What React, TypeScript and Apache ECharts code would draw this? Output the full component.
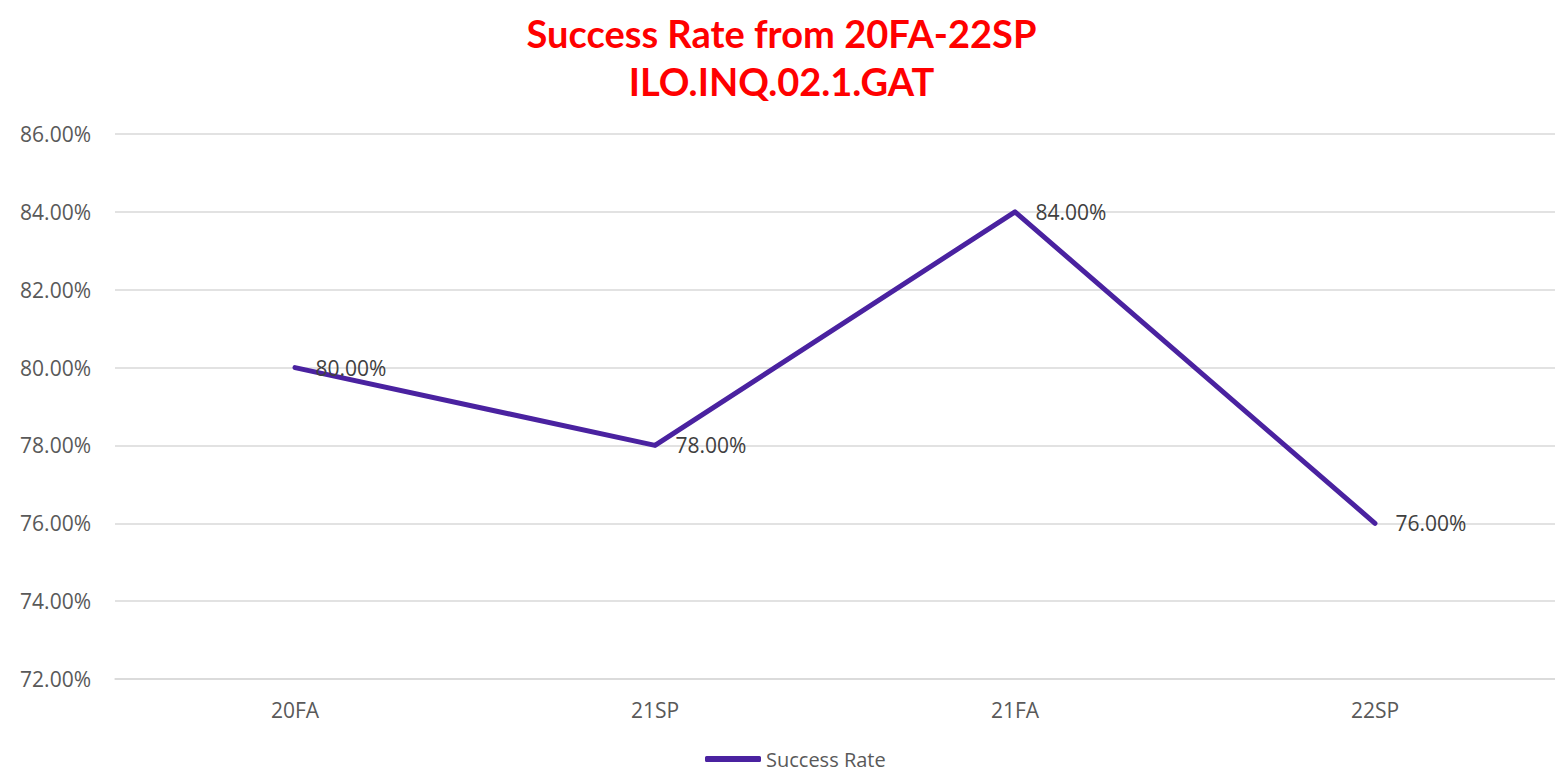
import React, { useEffect, useRef } from "react";
import * as echarts from "echarts";

const categories = ["20FA", "21SP", "21FA", "22SP"];
const successRate = [80, 78, 84, 76];
const seriesName = "Success Rate";
const titleLines = ["Success Rate from 20FA-22SP", "ILO.INQ.02.1.GAT"];

export default function App() {
  const ref = useRef<HTMLDivElement>(null);
  useEffect(() => {
    if (!ref.current) return;
    const chart = echarts.init(ref.current, undefined, { renderer: "svg" });
    const titleStyle = {
      color: "#ff0000",
      fontFamily: "Lato",
      fontWeight: "bold",
      fontSize: 38,
      lineHeight: 42,
    };
    chart.setOption({
      animation: false,
      title: {
        text: titleLines[0],
        subtext: titleLines[1],
        left: "center",
        top: 4,
        padding: 0,
        itemGap: 6,
        textStyle: titleStyle,
        subtextStyle: titleStyle,
      },
      legend: {
        top: 736,
        left: 692,
        itemWidth: 56,
        itemHeight: 6,
        itemGap: 10,
        data: [{ name: seriesName, icon: "roundRect" }],
        textStyle: {
          color: "#595959",
          fontFamily: "Open Sans",
          fontSize: 20,
          lineHeight: 18,
          padding: [0, 0, 0, 0],
        },
      },
      grid: { left: 107, right: 0, top: 126, bottom: 93, containLabel: false },
      xAxis: {
        type: "category",
        data: categories,
        axisLine: { show: true, lineStyle: { color: "#d9d9d9", width: 1.5 } },
        axisTick: { show: false },
        axisLabel: { color: "#595959", fontFamily: "Open Sans", fontSize: 21, margin: 20 },
      },
      yAxis: {
        type: "value",
        min: 72,
        max: 86,
        interval: 2,
        axisLine: { show: false },
        axisTick: { show: false },
        splitLine: { lineStyle: { color: "#d9d9d9", width: 1.5 } },
        axisLabel: {
          color: "#595959",
          fontFamily: "Open Sans",
          fontSize: 21,
          margin: 24,
          formatter: (v: number) => v.toFixed(2) + "%",
        },
      },
      series: [
        {
          name: seriesName,
          type: "line",
          data: successRate,
          symbol: "circle",
          symbolSize: 1,
          showSymbol: true,
          lineStyle: { color: "#4a22a0", width: 5, cap: "round", join: "round" },
          itemStyle: { color: "#4a22a0" },
          label: {
            show: true,
            position: "right",
            distance: 20,
            color: "#404040",
            fontFamily: "Open Sans",
            fontSize: 21,
            formatter: (p: any) => p.value.toFixed(2) + "%",
          },
        },
      ],
    });
    return () => chart.dispose();
  }, []);
  return <div ref={ref} style={{ width: 1547, height: 764 }} />;
}
